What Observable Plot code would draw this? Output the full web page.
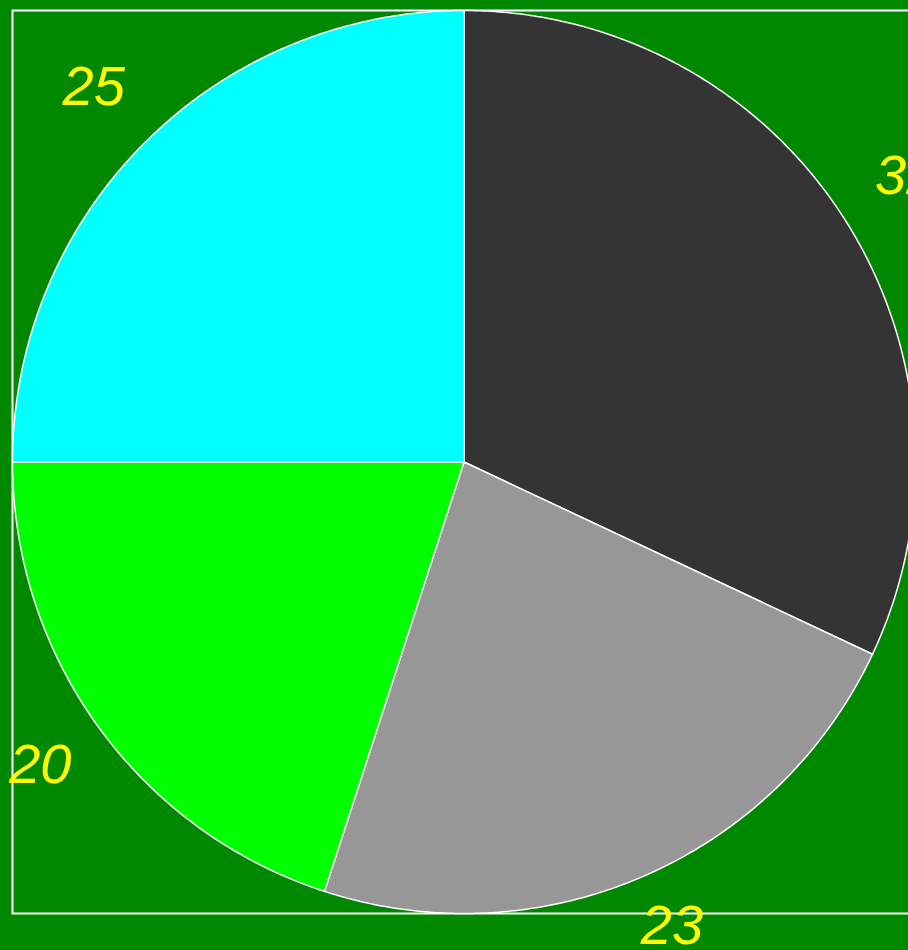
<!DOCTYPE html>
<html>
<head>
<meta charset="utf-8">
<script src="https://cdn.jsdelivr.net/npm/d3@7"></script>
<script src="https://cdn.jsdelivr.net/npm/@observablehq/plot@0.6"></script>
<style>
  html, body { margin: 0; padding: 0; background: #008800; overflow: hidden; }
  #chart svg { display: block; }
</style>
</head>
<body>
<div id="chart"></div>
<script>
const categories = ["32", "23", "20", "25"];
const values = [32, 23, 20, 25];
const colors = ["#343434", "#979797", "#00ff00", "#00ffff"];

const LABEL_R = 1.16;
const LABEL_Y_MIN = -1.04; // keep labels inside the bottom edge
const arcs = d3.pie().sort(null)(values);

// Build slice polygons in data space (unit circle), angle 0 at 12 o'clock, clockwise
const slicePts = [];
arcs.forEach((a, i) => {
  slicePts.push({key: categories[i], x: 0, y: 0, color: colors[i]});
  const n = Math.max(2, Math.ceil((a.endAngle - a.startAngle) / (Math.PI / 360)));
  for (let k = 0; k <= n; k++) {
    const t = a.startAngle + (a.endAngle - a.startAngle) * k / n;
    slicePts.push({key: categories[i], x: Math.sin(t), y: Math.cos(t), color: colors[i]});
  }
});

const labels = arcs.map((a, i) => {
  const m = (a.startAngle + a.endAngle) / 2;
  return {label: categories[i], x: LABEL_R * Math.sin(m), y: Math.max(LABEL_Y_MIN, LABEL_R * Math.cos(m))};
});

const plot = Plot.plot({
  width: 908,
  height: 950,
  marginLeft: 12,
  marginTop: 10,
  marginBottom: 37,
  marginRight: -7,
  style: {background: "#008800", overflow: "visible"},
  x: {domain: [-1, 1], axis: null},
  y: {domain: [-1, 1], axis: null},
  color: {type: "identity"},
  marks: [
    Plot.frame({stroke: "white", strokeWidth: 2}),
    Plot.line(slicePts, {
      x: "x", y: "y", z: "key",
      fill: "color",
      stroke: "white",
      strokeWidth: 1.5,
      strokeLinejoin: "round",
      curve: "linear-closed"
    }),
    Plot.text(labels, {
      x: "x", y: "y", text: "label",
      fill: "#ffff00",
      fontSize: 56,
      fontStyle: "italic",
      fontFamily: "Liberation Sans, Arial, sans-serif",
      textAnchor: "middle",
      lineAnchor: "middle",
      dy: -5
    })
  ]
});
document.getElementById("chart").appendChild(plot);
</script>
</body>
</html>
